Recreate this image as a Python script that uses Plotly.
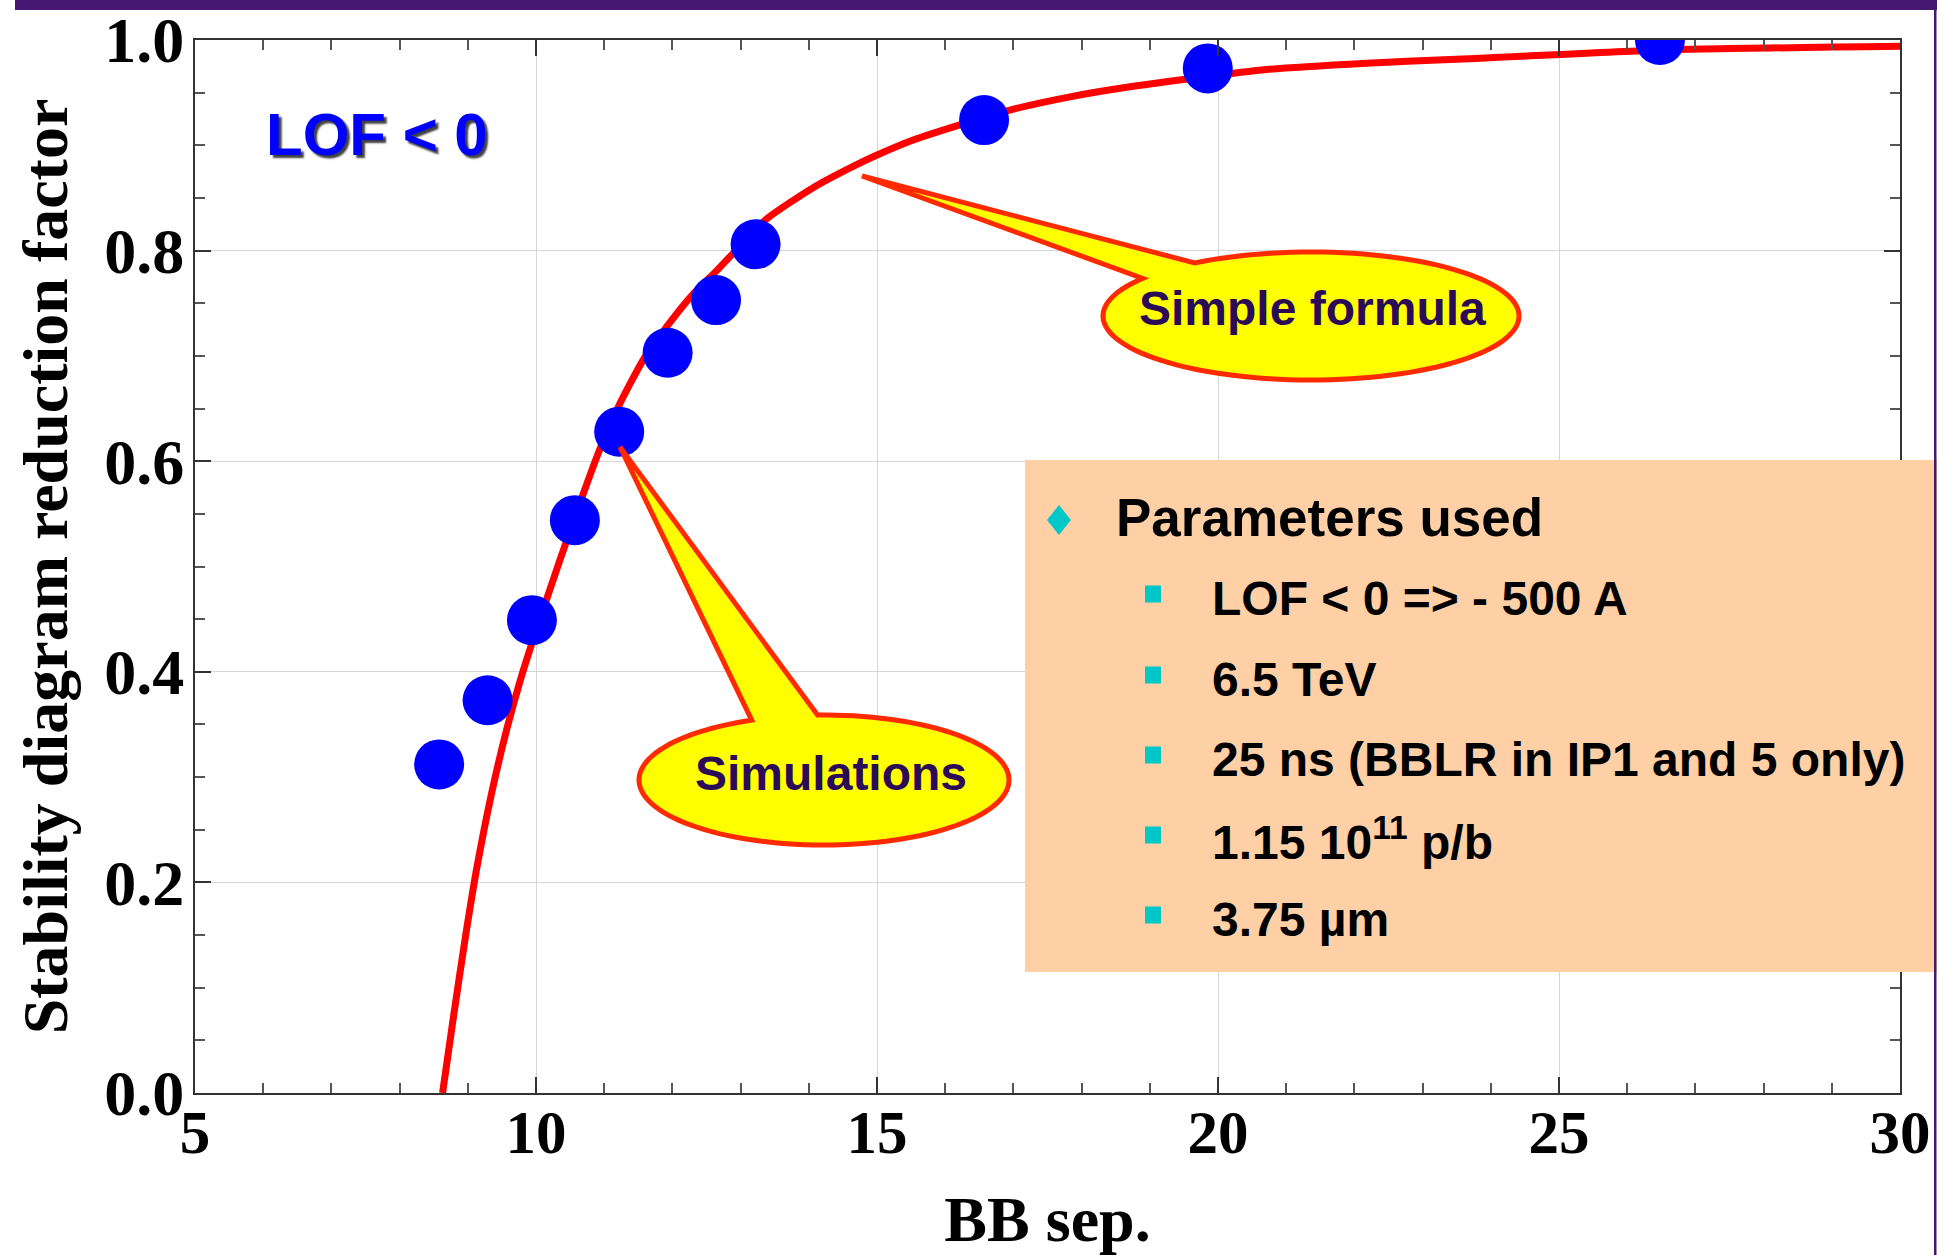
import numpy as np
import plotly.graph_objects as go

# ---------------- data ----------------
bb_sep_sim = [8.58, 9.29, 9.94, 10.57, 11.22, 11.93, 12.64, 13.22, 16.57, 19.85, 26.48]
factor_sim = [0.312, 0.373, 0.449, 0.544, 0.628, 0.703, 0.753, 0.806, 0.924, 0.973, 1.0]

bb_sep_formula = [8.63, 8.79, 8.96, 9.13, 9.35, 9.57, 9.77, 9.96, 10.35, 10.94, 11.21,
                  11.57, 11.92, 12.28, 12.65, 12.87, 13.38, 14.07, 14.65, 15.01, 15.53,
                  16.19, 16.95, 17.83, 18.76, 20.71, 22.18, 23.40, 24.13, 26.48, 30.0]
factor_formula = [0.0, 0.0725, 0.146, 0.213, 0.285, 0.345, 0.392, 0.431, 0.506, 0.612, 0.652,
                  0.696, 0.728, 0.757, 0.781, 0.796, 0.830, 0.860, 0.880, 0.891, 0.905,
                  0.919, 0.9335, 0.946, 0.956, 0.972, 0.978, 0.9815, 0.9835, 0.9905, 0.994]

x_ticks = [5, 10, 15, 20, 25, 30]
y_ticks = [0.0, 0.2, 0.4, 0.6, 0.8, 1.0]

param_title = "Parameters used"
param_items = ["LOF < 0 => - 500 A", "6.5 TeV", "25 ns (BBLR in IP1 and 5 only)",
               "1.15 10<sup>11</sup> p/b", "3.75 µm"]

# ---------------- layout geometry (pixels) ----------------
WIDTH, HEIGHT = 1937, 1255
L, R, T, B = 195, 1900, 40, 1093
PW, PH = R - L, B - T


def px(xp):
    return (xp - L) / PW


def py(yp):
    return (B - yp) / PH


def callout_path(cx, cy, rx, ry, tip, a_start, a_end, n=120):
    ang = np.radians(np.linspace(a_start, a_end, n))
    xs = cx + rx * np.cos(ang)
    ys = cy + ry * np.sin(ang)
    pts = [tip] + list(zip(xs, ys))
    s = "M {:.5f},{:.5f} ".format(px(pts[0][0]), py(pts[0][1]))
    for (a, b) in pts[1:]:
        s += "L {:.5f},{:.5f} ".format(px(a), py(b))
    return s + "Z"


SERIF = "Liberation Serif"
SANS = "Liberation Sans"

fig = go.Figure()
fig.add_trace(go.Scatter(x=bb_sep_formula, y=factor_formula, mode="lines",
                         line=dict(color="#FF0000", width=7, shape="spline", smoothing=0.6),
                         hoverinfo="skip", showlegend=False))
fig.add_trace(go.Scatter(x=bb_sep_sim, y=factor_sim, mode="markers",
                         marker=dict(color="#0000FF", size=50, line=dict(width=0)),
                         showlegend=False))

shapes = []
# callouts
shapes.append(dict(type="path", xref="paper", yref="paper", layer="above",
                   path=callout_path(1311, 316, 208, 64, (862, 176), 236, 576),
                   fillcolor="#FFFF00", line=dict(color="#FF2A00", width=5)))
shapes.append(dict(type="path", xref="paper", yref="paper", layer="above",
                   path=callout_path(824, 780, 185, 65, (620, 447), 268, 607),
                   fillcolor="#FFFF00", line=dict(color="#FF2A00", width=5)))
# parameter box
shapes.append(dict(type="rect", xref="paper", yref="paper", layer="above",
                   x0=px(1025), x1=px(1937), y0=py(972), y1=py(460),
                   fillcolor="#FFD0A6", line=dict(width=0)))
# diamond bullet
dcx, dcy = 1059, 520
shapes.append(dict(type="path", xref="paper", yref="paper", layer="above",
                   path="M {:.5f},{:.5f} L {:.5f},{:.5f} L {:.5f},{:.5f} L {:.5f},{:.5f} Z".format(
                       px(dcx), py(dcy - 15), px(dcx + 12), py(dcy), px(dcx), py(dcy + 15), px(dcx - 12), py(dcy)),
                   fillcolor="#00C8C8", line=dict(width=0)))
row_y = [594, 675, 755, 835, 915]
for yy in row_y:
    shapes.append(dict(type="rect", xref="paper", yref="paper", layer="above",
                       x0=px(1145), x1=px(1161), y0=py(yy + 8.5), y1=py(yy - 8.5),
                       fillcolor="#00C8C8", line=dict(width=0)))
# slide frame: purple bar on top and thin line on right
shapes.append(dict(type="rect", xref="paper", yref="paper", layer="above",
                   x0=px(15), x1=px(1937), y0=py(10), y1=py(0),
                   fillcolor="#461872", line=dict(width=0)))
shapes.append(dict(type="rect", xref="paper", yref="paper", layer="above",
                   x0=px(1934), x1=px(1936.5), y0=py(1255), y1=py(0),
                   fillcolor="#461872", line=dict(width=0)))

annotations = []
annotations.append(dict(text="LOF < 0", xref="paper", yref="paper", x=px(377), y=py(134),
                        xanchor="center", yanchor="middle", showarrow=False,
                        font=dict(family=SANS, size=60, color="#0000FF", weight="bold",
                                  shadow="3px 3px 2px rgba(0,0,0,0.75)")))
annotations.append(dict(text="Simple formula", xref="paper", yref="paper", x=px(1312), y=py(309),
                        xanchor="center", yanchor="middle", showarrow=False,
                        font=dict(family=SANS, size=48, color="#2B0A57", weight="bold")))
annotations.append(dict(text="Simulations", xref="paper", yref="paper", x=px(831), y=py(773),
                        xanchor="center", yanchor="middle", showarrow=False,
                        font=dict(family=SANS, size=48, color="#2B0A57", weight="bold")))
annotations.append(dict(text=param_title, xref="paper", yref="paper", x=px(1114), y=py(517),
                        xanchor="left", yanchor="middle", showarrow=False,
                        font=dict(family=SANS, size=53, color="#000000", weight="bold")))
for txt, yy in zip(param_items, row_y):
    annotations.append(dict(text=txt, xref="paper", yref="paper", x=px(1210), y=py(yy + 4),
                            xanchor="left", yanchor="middle", showarrow=False,
                            font=dict(family=SANS, size=48, color="#000000", weight="bold")))

axis_common = dict(showline=True, linecolor="#333333", linewidth=2, mirror="allticks",
                   ticks="inside", ticklen=16, tickwidth=1.5, tickcolor="#333333",
                   showgrid=True, gridcolor="#D6D6D6", gridwidth=1, zeroline=False,
                   automargin=False)

fig.update_layout(
    width=WIDTH, height=HEIGHT,
    margin=dict(l=L, r=WIDTH - R, t=T, b=HEIGHT - B),
    paper_bgcolor="white", plot_bgcolor="white",
    shapes=shapes, annotations=annotations,
    xaxis=dict(range=[5, 30], tickvals=x_ticks, ticktext=[str(v) for v in x_ticks],
               ticklabelstandoff=-15,
               tickfont=dict(family=SERIF, size=61, color="#000000", weight="bold"),
               minor=dict(dtick=1, ticks="inside", ticklen=10, tickwidth=1.5, tickcolor="#555555",
                          showgrid=False),
               title=dict(text="BB sep.", font=dict(family=SERIF, size=64, color="#000000", weight="bold"),
                          standoff=45),
               **axis_common),
    yaxis=dict(range=[0, 1], tickvals=y_ticks, ticktext=["{:.1f}".format(v) for v in y_ticks],
               ticklabelstandoff=-4,
               tickfont=dict(family=SERIF, size=64, color="#000000", weight="bold"),
               minor=dict(dtick=0.05, ticks="inside", ticklen=10, tickwidth=1.5, tickcolor="#555555",
                          showgrid=False),
               title=dict(text="Stability diagram reduction factor",
                          font=dict(family=SERIF, size=64, color="#000000", weight="bold"),
                          standoff=16),
               **axis_common),
)

fig.write_html("out.html")
